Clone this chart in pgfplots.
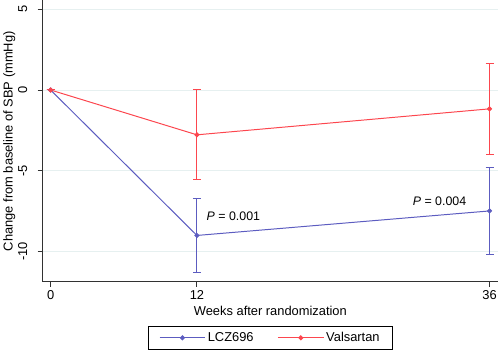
\documentclass[border=0pt]{standalone}
\usepackage{pgfplots}
\pgfplotsset{compat=1.18}
\usepackage{fontspec}
\setmainfont{Liberation Sans}
\definecolor{lczblue}{RGB}{92,92,192}
\definecolor{valred}{RGB}{252,70,78}
\definecolor{gridc}{RGB}{230,240,240}
\definecolor{axc}{RGB}{50,50,50}
\begin{document}
\begin{tikzpicture}
\begin{axis}[
  scale only axis,
  width=458bp, height=283bp,
  xmin=-0.65, xmax=36.7,
  ymin=-11.9, ymax=5.55,
  axis x line*=bottom, axis y line*=left,
  axis line style={axc, line width=1pt},
  xtick={0,12,36}, ytick={-10,-5,0,5},
  yticklabel style={rotate=90, anchor=south},
  yticklabel shift=7bp,
  ymajorgrids, grid style={gridc, line width=0.7pt},
  tick style={axc, line width=0.9pt},
  tick align=outside, major tick length=5bp,
  tick label style={font=\fontsize{13}{15}\selectfont},
  /pgf/number format/assume math mode=true,
  xlabel={Weeks after randomization},
  ylabel={Change from baseline of SBP (mmHg)},
  label style={font=\fontsize{13}{15}\selectfont},
  xlabel style={yshift=0bp},
  ylabel style={yshift=-4bp},
  legend style={at={(0.5,-0.155)}, anchor=north, legend columns=2,
    draw=black, line width=0.9pt, font=\fontsize{13}{15}\selectfont,
    inner ysep=4.5bp, inner xsep=11bp,
    /tikz/every even column/.append style={column sep=22bp}},
  legend image code/.code={\draw[mark repeat=2, mark phase=2, #1]
    plot coordinates {(0bp,0bp) (23bp,0bp) (46bp,0bp)};},
  clip=false,
]
\addplot[lczblue, line width=1pt, mark=*, mark size=2bp,
  error bars/.cd, y dir=both, y explicit,
  error bar style={line width=1pt},
  error mark options={rotate=90, mark size=4bp, line width=1pt}]
  coordinates {(0,0) +- (0,0) (12,-9.02) +- (0,2.32) (36,-7.5) +- (0,2.68)};
\addlegendentry{LCZ696}
\addplot[valred, line width=1pt, mark=*, mark size=2bp,
  error bars/.cd, y dir=both, y explicit,
  error bar style={line width=1pt},
  error mark options={rotate=90, mark size=4bp, line width=1pt}]
  coordinates {(0,0) +- (0,0) (12,-2.78) +- (0,2.8) (36,-1.17) +- (0,2.83)};
\addlegendentry{Valsartan}
\node[anchor=west, inner sep=0pt, font=\fontsize{12.5}{14}\selectfont] at (axis cs:12.79,-7.82) {\textit{P} = 0.001};
\node[anchor=east, inner sep=0pt, font=\fontsize{12.5}{14}\selectfont] at (axis cs:34.1,-6.9) {\textit{P} = 0.004};
\path (rel axis cs:0,1) ++(-42bp,0bp);
\path (rel axis cs:1,0) ++(0bp,-70bp);
\end{axis}
\end{tikzpicture}
\end{document}
